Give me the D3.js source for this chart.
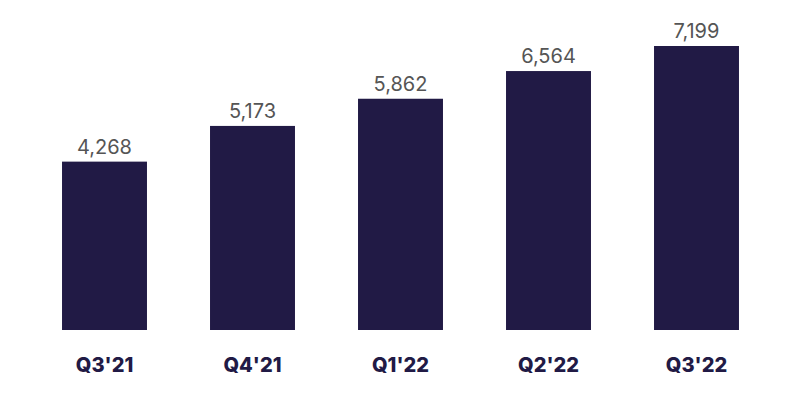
<!DOCTYPE html>
<html><head><meta charset="utf-8">
<script src="https://cdn.jsdelivr.net/npm/d3@7"></script>
<style>html,body{margin:0;padding:0;background:#fff;}</style>
</head><body>
<svg id="c" width="800" height="400"></svg>
<script>
const categories = ["Q3'21","Q4'21","Q1'22","Q2'22","Q3'22"];
const values = [4268, 5173, 5862, 6564, 7199];
const valueLabels = ["4,268","5,173","5,862","6,564","7,199"];

const svg = d3.select("#c");
const x = d3.scaleBand().domain(categories).range([30.5, 770.5]).paddingInner(0.426).paddingOuter(0.213);
const y = d3.scaleLinear().domain([0, d3.max(values)]).range([330, 46]);

const data = categories.map((c,i)=>({c, v: values[i], l: valueLabels[i]}));

svg.selectAll("rect.bar").data(data).join("rect")
  .attr("class","bar")
  .attr("x", d=>x(d.c)).attr("width", x.bandwidth())
  .attr("y", d=>y(d.v)).attr("height", d=>y(0)-y(d.v))
  .attr("fill", "#211a45");

svg.selectAll("text.val").data(data).join("text")
  .attr("class","val")
  .attr("x", d=>x(d.c)+x.bandwidth()/2)
  .attr("y", d=>y(d.v)-8)
  .attr("text-anchor","middle")
  .attr("font-family","Inter, 'Open Sans', sans-serif")
  .attr("font-size", 20)
  .attr("fill","#555555")
  .text(d=>d.l);

const xAxis = d3.axisBottom(x).tickSize(0).tickPadding(0);
const g = svg.append("g").attr("transform","translate(0,330)").call(xAxis);
g.select(".domain").remove();
g.selectAll("text")
  .attr("dy", null)
  .attr("y", 42)
  .attr("font-family","Inter, 'Open Sans', sans-serif")
  .attr("font-weight","800")
  .attr("font-size", 20)
  .attr("fill","#211a45");
</script>
</body></html>
